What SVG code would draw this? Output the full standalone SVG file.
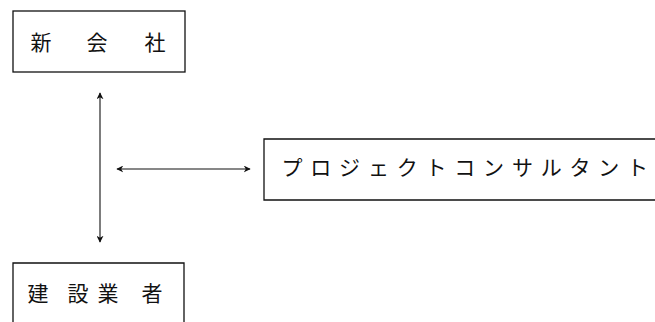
<svg xmlns="http://www.w3.org/2000/svg" width="655" height="322" viewBox="0 0 655 322">
<style>
.box{fill:none;stroke:#111;stroke-width:1.3}
.t{font-family:"Noto Sans CJK JP","Noto Sans CJK SC",sans-serif;font-size:21px;fill:#111;text-anchor:middle}
.c{fill:none;stroke:#111;stroke-width:1.1}
</style>
<defs>
<marker id="ah" viewBox="0 0 10 10" refX="9" refY="5" markerWidth="7" markerHeight="7" orient="auto-start-reverse" markerUnits="userSpaceOnUse">
<path d="M0,0 L10,5 L0,10 L3,5 Z" fill="#111"/>
</marker>
</defs>
<rect width="655" height="322" fill="#fff"/>
<g id="shinkaisha">
<rect class="box" x="13" y="11" width="172" height="61"/>
<text class="t" x="41" y="50">新</text>
<text class="t" x="97" y="50">会</text>
<text class="t" x="155" y="50">社</text>
</g>
<g id="consultant">
<path class="box" d="M656,139 L264,139 L264,200 L656,200"/>
<text class="t" x="292" y="175">プ</text>
<text class="t" x="320.8" y="175">ロ</text>
<text class="t" x="349.6" y="175">ジ</text>
<text class="t" x="378.4" y="175">ェ</text>
<text class="t" x="407.2" y="175">ク</text>
<text class="t" x="436" y="175">ト</text>
<text class="t" x="464.8" y="175">コ</text>
<text class="t" x="493.6" y="175">ン</text>
<text class="t" x="522.4" y="175">サ</text>
<text class="t" x="551.2" y="175">ル</text>
<text class="t" x="580" y="175">タ</text>
<text class="t" x="608.8" y="175">ン</text>
<text class="t" x="637.6" y="175">ト</text>
</g>
<g id="kensetsu">
<path class="box" d="M13,323 L13,263 L184,263 L184,323"/>
<text class="t" x="38" y="301">建</text>
<text class="t" x="78" y="301">設</text>
<text class="t" x="108" y="301">業</text>
<text class="t" x="152" y="301">者</text>
</g>
<g id="connectors">
<line class="c" x1="100" y1="93" x2="100" y2="242" marker-start="url(#ah)" marker-end="url(#ah)"/>
<line class="c" x1="117" y1="169" x2="250" y2="169" marker-start="url(#ah)" marker-end="url(#ah)"/>
</g>
</svg>
